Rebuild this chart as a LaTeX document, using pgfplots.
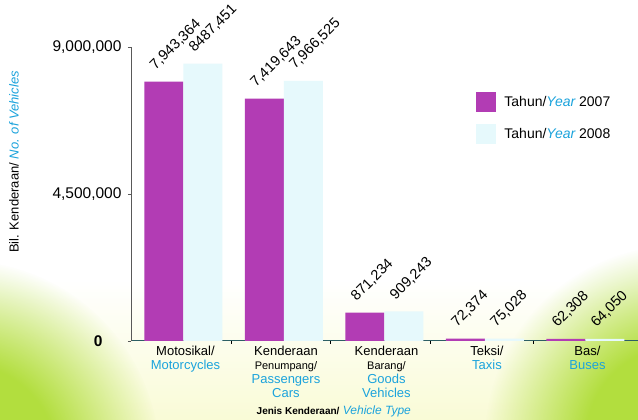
\documentclass[border=0pt]{standalone}
\usepackage{pgfplots}
\pgfplotsset{compat=1.18}
\usetikzlibrary{fadings}
\usepackage{fontspec}
\setmainfont{Liberation Sans}
\definecolor{mag}{RGB}{178,60,180}
\definecolor{lcy}{RGB}{230,249,252}
\definecolor{cy}{RGB}{27,163,220}
\definecolor{bgy}{RGB}{249,251,214}
\definecolor{grn}{RGB}{178,222,62}
\definecolor{axteal}{RGB}{45,95,100}
\pgfdeclareradialshading{gfadeshade}{\pgfpointorigin}{color(0bp)=(pgftransparent!0); color(12bp)=(pgftransparent!0); color(25bp)=(pgftransparent!100); color(50bp)=(pgftransparent!100)}
\pgfdeclarefading{gfade}{\pgfuseshading{gfadeshade}}
\begin{document}
\begin{tikzpicture}[x=1pt,y=1pt]
\useasboundingbox (0,0) rectangle (638,420);
\begin{scope}
\clip (0,0) rectangle (638,420);
\fill[white] (0,0) rectangle (638,420);
\shade[top color=white, bottom color=bgy] (0,0) rectangle (638,140);
\fill[grn, path fading=gfade] (-40,-40) circle (200);
\fill[grn, path fading=gfade] (680,-20) circle (195);
\end{scope}
\begin{axis}[
  at={(131pt,79pt)}, anchor=south west,
  scale only axis, width=507pt, height=294pt,
  clip=false,
  ybar=0pt, bar width=39pt,
  xmin=-0.522, xmax=4.523, ymin=0, ymax=9000000,
  axis x line=bottom, axis y line=left,
  axis line style={-},
  x axis line style={draw=axteal, line width=1pt},
  y axis line style={draw=black!65, line width=0.8pt},
  xtick={0,1,2,3,4},
  major x tick style={draw=none},
  minor xtick={0.48,1.46,2.46,3.48},
  minor x tick style={draw=black, line width=0.8pt},
  minor tick length=3pt,
  ytick={0,4500000,9000000},
  yticklabels={{\textbf{0}\hspace*{19pt}},{4,500,000},{9,000,000}},
  major y tick style={draw=black!65, line width=0.8pt},
  major tick length=3pt,
  tick align=outside,
  scaled y ticks=false,
  yticklabel style={font=\fontsize{15.5}{17}\selectfont, xshift=-3pt},
  xticklabels={
    {Motosikal/\\{\color{cy}Motorcycles}},
    {Kenderaan\\{\fontsize{11}{14}\selectfont Penumpang/}\\{\color{cy}Passengers}\\{\color{cy}Cars}},
    {Kenderaan\\{\fontsize{11}{14}\selectfont Barang/}\\{\color{cy}Goods}\\{\color{cy}Vehicles}},
    {Teksi/\\{\color{cy}Taxis}},
    {Bas/\\{\color{cy}Buses}}},
  xticklabel style={font=\fontsize{13}{14}\selectfont, align=center, anchor=north, yshift=1pt, xshift=2pt},
  ylabel={Bil. Kenderaan/ {\color{cy}\itshape No. of Vehicles}},
  ylabel style={at={(axis description cs:-0.231,0.609)}, anchor=center, font=\fontsize{13}{14}\selectfont},
  xlabel={{\fontsize{10}{12}\selectfont\bfseries Jenis Kenderaan/} {\color{cy}\itshape Vehicle Type}},
  xlabel style={at={(axis description cs:0.40,-0.238)}, anchor=center, font=\fontsize{12}{14}\selectfont},
  nodes near coords,
  point meta=explicit symbolic,
  nodes near coords style={font=\fontsize{14.5}{15}\selectfont, xshift=-7pt, yshift=8pt, rotate=45, anchor=south west, inner sep=1pt},
  legend style={at={(axis description cs:0.675,0.855)}, anchor=north west, draw=none, fill=none,
    font=\fontsize{14}{16}\selectfont, row sep=12pt, column sep=6pt},
  legend cell align=left,
  legend image code/.code={\fill[#1] (0pt,-10pt) rectangle (20pt,10pt);},
]
\addplot[fill=mag, draw=none] coordinates {
  (0,7943364) [7,943,364]
  (1,7419643) [7,419,643]
  (2,871234) [871,234]
  (3,72374) [72,374]
  (4,62308) [62,308]
};
\addplot[fill=lcy, draw=none] coordinates {
  (0,8487451) [8487,451]
  (1,7966525) [7,966,525]
  (2,909243) [909,243]
  (3,75028) [75,028]
  (4,64050) [64,050]
};
\legend{Tahun/{\color{cy}\itshape Year} 2007, Tahun/{\color{cy}\itshape Year} 2008}
\end{axis}
\end{tikzpicture}
\end{document}
